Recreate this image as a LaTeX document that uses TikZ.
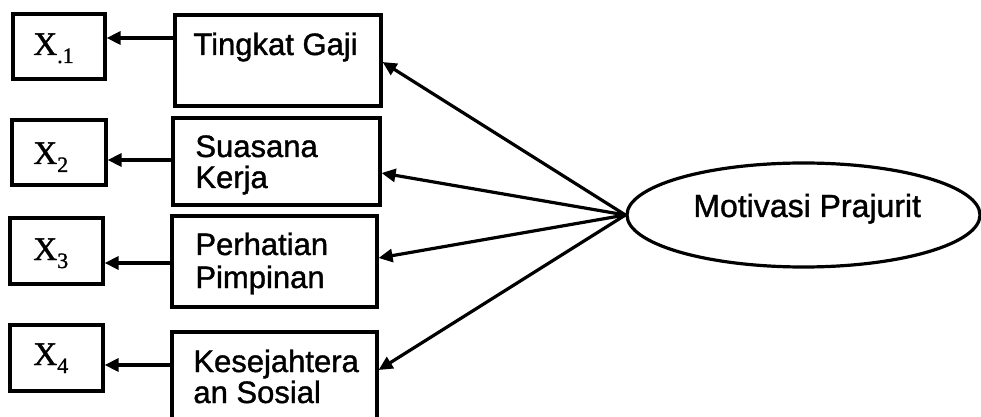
\documentclass[tikz,border=0pt]{standalone}
\usepackage{fontspec}
\setmainfont{Liberation Sans}[RawFeature={embolden=1.2}]
\newfontfamily\serifx{Liberation Serif}[RawFeature={embolden=1.2}]
\usetikzlibrary{arrows.meta,shapes.geometric}
% subscript for the indicator labels
\newcommand\xsub[1]{\raisebox{-4pt}{\fontsize{11}{11}\selectfont #1}}
\begin{document}
\begin{tikzpicture}[x=0.5pt,y=-0.5pt,
  box/.style={draw, line width=1.6pt, inner sep=0pt},
  conn/.style={line width=1.6pt, -{Triangle[length=7pt,width=6.5pt]}},
  lbl/.style={font=\fontsize{15.5}{16}\selectfont, inner sep=0pt, anchor=base west},
  xl/.style={font=\serifx\fontsize{16.5}{16}\selectfont, inner sep=0pt, anchor=base west}]
\useasboundingbox (0,0) rectangle (981,417);

% indicator boxes
\node[box, minimum width=46pt, minimum height=32.5pt] (x1) at (59,46.5) {};
\node[box, minimum width=47pt, minimum height=32.5pt] (x2) at (59,152.5) {};
\node[box, minimum width=46.5pt, minimum height=33pt] (x3) at (56.5,251) {};
\node[box, minimum width=46.5pt, minimum height=33pt] (x4) at (56.5,358) {};
\node[xl] (x1t) at (33,55) {X\xsub{.1}};
\node[xl] (x2t) at (33,164) {X\xsub{2}};
\node[xl] (x3t) at (33,260) {X\xsub{3}};
\node[xl] (x4t) at (33,365) {X\xsub{4}};

% factor boxes
\node[box, minimum width=103pt, minimum height=45.5pt] (t1) at (278,60.5) {};
\node[box, minimum width=103.5pt, minimum height=43.5pt] (t2) at (276.5,161.5) {};
\node[box, minimum width=102.5pt, minimum height=45.5pt] (t3) at (274.5,261.5) {};
\node[box, minimum width=102.5pt, minimum height=49pt] (t4) at (274.5,381) {};
\node[lbl] (t1a) at (193,55) {Tingkat Gaji};
\node[lbl] (t2a) at (195,157) {Suasana};
\node[lbl] (t2b) at (195,188) {Kerja};
\node[lbl] (t3a) at (195,255) {Perhatian};
\node[lbl] (t3b) at (195,288) {Pimpinan};
\node[lbl] (t4a) at (193,372) {Kesejahtera};
\node[lbl] (t4b) at (193,403) {an Sosial};

% latent variable
\node[draw, ellipse, line width=1.6pt, minimum width=176.5pt, minimum height=52pt, inner sep=0pt] (mp) at (803.5,215) {};
\node[lbl, font=\fontsize{16}{16}\selectfont] (mpt) at (693,217) {Motivasi Prajurit};

% loadings
\draw[conn] (mp.west) -- (t1.east |- 0,62);
\draw[conn] (mp.west) -- (t2.east |- 0,173);
\draw[conn] (mp.west) -- (t3.east |- 0,258);
\draw[conn] (mp.west) -- (t4.east |- 0,370);

\draw[conn] (t1.west |- 0,38) -- (x1.east |- 0,38);
\draw[conn] (t2.west |- 0,160) -- (x2.east |- 0,160);
\draw[conn] (t3.west |- 0,263) -- (x3.east |- 0,263);
\draw[conn] (t4.west |- 0,365) -- (x4.east |- 0,365);
\end{tikzpicture}
\end{document}
